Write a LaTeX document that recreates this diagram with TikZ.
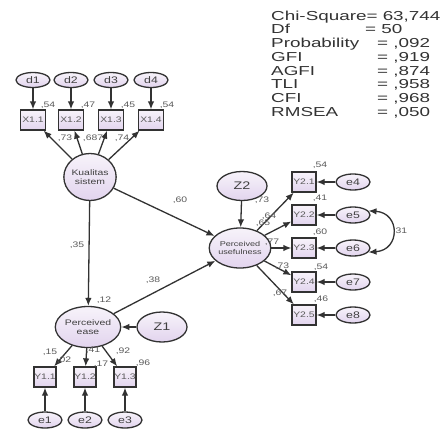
\documentclass[tikz,border=0pt]{standalone}
\usepackage{fontspec}
\setmainfont{Liberation Sans}
\newfontfamily\labf[FakeStretch=1.3]{Liberation Sans}
\newfontfamily\fitf[FakeStretch=1.45]{Liberation Sans}
\usetikzlibrary{shapes.geometric,arrows.meta}
\definecolor{lavtop}{RGB}{247,243,250}
\definecolor{lavbot}{RGB}{226,212,238}
\definecolor{edgec}{RGB}{50,50,50}
\definecolor{labc}{RGB}{90,90,90}
\tikzset{
 lat/.style={ellipse, draw=edgec, line width=1.3pt, top color=lavtop, bottom color=lavbot, inner sep=0pt, align=center, text=black!75},
 obs/.style={rectangle, draw=edgec, line width=1.3pt, top color=lavtop, bottom color=lavbot, inner sep=0pt, minimum width=24pt, minimum height=20pt, font=\labf\fontsize{8}{8}\selectfont, text=labc},
 err/.style={lat, minimum width=34pt, minimum height=16pt, font=\labf\fontsize{9.5}{9.5}\selectfont},
 dist/.style={lat, minimum width=50pt, minimum height=30pt, font=\labf\fontsize{11}{11}\selectfont},
 arr/.style={draw=edgec, line width=1.3pt, -{Latex[length=8pt,width=6.5pt]}},
 est/.style={font=\labf\fontsize{8}{8}\selectfont, text=labc, inner sep=0pt},
 fitline/.style={font=\fitf\fontsize{13}{13}\selectfont, text=black!80, inner sep=0pt, anchor=base west},
}
\begin{document}
\begin{tikzpicture}[x=1pt,y=-1pt]
\useasboundingbox (0,0) rectangle (443,428);
\fill[white] (0,0) rectangle (443,428);
% fit statistics
\node[fitline] (f1) at (271,20.2) {Chi-Square= 63,744};
\node[fitline] (f2a) at (271,33.9) {Df};
\node[fitline] (f2b) at (365,33.9) {= 50};
\node[fitline] (f3a) at (271,47.6) {Probability};
\node[fitline] (f3b) at (377,47.6) {= ,092};
\node[fitline] (f4a) at (271,61.3) {GFI};
\node[fitline] (f4b) at (377,61.3) {= ,919};
\node[fitline] (f5a) at (271,75) {AGFI};
\node[fitline] (f5b) at (377,75) {= ,874};
\node[fitline] (f6a) at (271,88.7) {TLI};
\node[fitline] (f6b) at (377,88.7) {= ,958};
\node[fitline] (f7a) at (271,102.4) {CFI};
\node[fitline] (f7b) at (377,102.4) {= ,968};
\node[fitline] (f8a) at (271,116.1) {RMSEA};
\node[fitline] (f8b) at (377,116.1) {= ,050};

% latent variables
\node[lat, minimum width=48pt, minimum height=47pt, font=\labf\fontsize{8}{8.5}\selectfont] (K) at (90,177) {Kualitas\\sistem};
\node[lat, minimum width=49pt, minimum height=41pt, font=\labf\fontsize{8}{8.5}\selectfont] (PE) at (88,327) {Perceived\\ease};
\node[lat, minimum width=46pt, minimum height=40pt, font=\labf\fontsize{7}{7.5}\selectfont] (PU) at (240,248) {Perceived\\usefulness};
\node[dist] (Z1) at (162,327) {Z1};
\node[dist, minimum height=29pt] (Z2) at (242,186) {Z2};

% X indicators
\foreach \i/\x in {1/33,2/71,3/111,4/151}{
  \node[err, minimum height=15pt] (d\i) at (\x,80) {d\i};
  \node[obs, minimum width=25pt] (X\i) at (\x,120) {X1.\i};
  \draw[arr] (d\i) -- (X\i);
  \draw[arr] (K) -- (X\i);
}
% Y1 indicators
\foreach \i/\x in {1/45,2/85,3/125}{
  \node[obs, minimum width=22pt] (Ya\i) at (\x,377) {Y1.\i};
  \node[err] (e\i) at (\x,420) {e\i};
  \draw[arr] (e\i) -- (Ya\i);
  \draw[arr] (PE) -- (Ya\i);
}
% Y2 indicators
\foreach \i/\y/\e in {1/182/4,2/215/5,3/248/6,4/282/7,5/315/8}{
  \node[obs] (Yb\i) at (304,\y) {Y2.\i};
  \node[err] (e\e) at (353,\y) {e\e};
  \draw[arr] (e\e) -- (Yb\i);
  \draw[arr] (PU) -- (Yb\i);
}
% structural paths
\draw[arr] (K) -- (PE);
\draw[arr] (K) -- (PU);
\draw[arr] (PE) -- (PU);
\draw[arr] (Z1) -- (PE);
\draw[arr] (Z2) -- (PU);
% covariance e5-e6
\draw[draw=edgec, line width=1.3pt, {Latex[length=8pt,width=6.5pt]}-{Latex[length=8pt,width=6.5pt]}]
  (e5.15) .. controls +(32,2) and +(32,-2) .. (e6.-15);

% estimates
\node[est] (l1) at (48,105) {,54};
\node[est] (l2) at (88,105) {,47};
\node[est] (l3) at (128,105) {,45};
\node[est] (l4) at (167,105) {,54};
\node[est] (l5) at (65,138) {,73};
\node[est] (l6) at (93,138) {,687};
\node[est] (l7) at (122,138) {,74};
\node[est] (l8) at (77,245) {,35};
\node[est] (l9) at (180,200) {,60};
\node[est] (l10) at (153,280) {,38};
\node[est] (l11) at (104,300) {,12};
\node[est] (l12) at (262,200) {,73};
\node[est] (l13) at (269,216) {,64};
\node[est] (l14) at (263,223) {,65};
\node[est] (l15) at (272,242) {,77};
\node[est] (l16) at (282,266) {,73};
\node[est] (l17) at (280,293) {,67};
\node[est] (l18) at (320,165) {,54};
\node[est] (l19) at (320,198) {,41};
\node[est] (l20) at (320,232) {,60};
\node[est] (l21) at (321,267) {,54};
\node[est] (l22) at (321,299) {,46};
\node[est] (l23) at (400,231) {,31};
\node[est] (l24) at (50,352) {,15};
\node[est] (l25) at (64,360) {,02};
\node[est] (l26) at (93,350) {,41};
\node[est] (l27) at (101,364) {,17};
\node[est] (l28) at (123,351) {,92};
\node[est] (l29) at (143,363) {,96};
\end{tikzpicture}
\end{document}
